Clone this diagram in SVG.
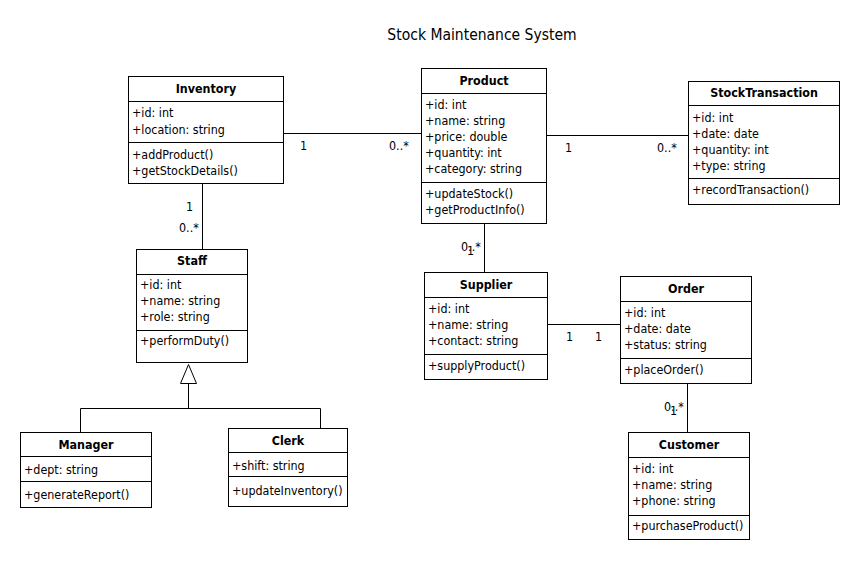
<svg xmlns="http://www.w3.org/2000/svg" width="860" height="561" viewBox="0 0 860 561">
<style>
text{font-family:'DejaVu Sans Condensed','DejaVu Sans',sans-serif;font-stretch:condensed;font-size:12.4px;fill:#000}
.t{font-weight:bold;text-anchor:middle}
.h{font-size:15.5px;text-anchor:middle}
rect{fill:#fff;stroke:#000;stroke-width:1}
line,path{stroke:#000;stroke-width:1;fill:none}
</style>
<rect x="0" y="0" width="860" height="561" style="stroke:none"/>
<text class="h" x="482" y="40">Stock Maintenance System</text>
<g id="connectors">
<line x1="284" y1="133.5" x2="421" y2="133.5"/>
<line x1="546" y1="135.5" x2="688" y2="135.5"/>
<line x1="202.5" y1="184" x2="202.5" y2="249"/>
<line x1="484.5" y1="224" x2="484.5" y2="272"/>
<line x1="547" y1="324.5" x2="620" y2="324.5"/>
<line x1="687.5" y1="384" x2="687.5" y2="432"/>
<path d="M188.5 383.5V408.5M80.5 432V408.5H320.5V428"/>
<path d="M188.5 364.5L180.5 383.5H196.5Z" style="fill:#fff"/>
<text x="300" y="150">1</text>
<text x="389" y="150">0..*</text>
<text x="565" y="152">1</text>
<text x="657" y="152">0..*</text>
<text x="186" y="211">1</text>
<text x="179" y="232">0..*</text>
<text x="461" y="251">0..*</text>
<text x="467" y="255">1</text>
<text x="566" y="341">1</text>
<text x="595" y="341">1</text>
<text x="664" y="411">0..*</text>
<text x="670" y="415">1</text>
</g>
<g id="Inventory">
<rect x="128.5" y="76.5" width="155" height="107"/>
<line x1="128" y1="101.5" x2="284" y2="101.5"/>
<line x1="128" y1="142.5" x2="284" y2="142.5"/>
<text class="t" x="206" y="93">Inventory</text>
<text x="132" y="117">+id: int</text>
<text x="132" y="134">+location: string</text>
<text x="132" y="159">+addProduct()</text>
<text x="132" y="175">+getStockDetails()</text>
</g>
<g id="Product">
<rect x="421.5" y="68.5" width="125" height="155"/>
<line x1="421" y1="93.5" x2="547" y2="93.5"/>
<line x1="421" y1="182.5" x2="547" y2="182.5"/>
<text class="t" x="484" y="85">Product</text>
<text x="425" y="109">+id: int</text>
<text x="425" y="125">+name: string</text>
<text x="425" y="141">+price: double</text>
<text x="425" y="157">+quantity: int</text>
<text x="425" y="173">+category: string</text>
<text x="425" y="198">+updateStock()</text>
<text x="425" y="214">+getProductInfo()</text>
</g>
<g id="StockTransaction">
<rect x="688.5" y="81.5" width="151" height="123"/>
<line x1="688" y1="105.5" x2="840" y2="105.5"/>
<line x1="688" y1="178.5" x2="840" y2="178.5"/>
<text class="t" x="764" y="97">StockTransaction</text>
<text x="692" y="122">+id: int</text>
<text x="692" y="138">+date: date</text>
<text x="692" y="154">+quantity: int</text>
<text x="692" y="170">+type: string</text>
<text x="692" y="194">+recordTransaction()</text>
</g>
<g id="Staff">
<rect x="136.5" y="249.5" width="111" height="113"/>
<line x1="136" y1="274.5" x2="248" y2="274.5"/>
<line x1="136" y1="330.5" x2="248" y2="330.5"/>
<text class="t" x="192" y="265">Staff</text>
<text x="140" y="289">+id: int</text>
<text x="140" y="305">+name: string</text>
<text x="140" y="321">+role: string</text>
<text x="140" y="345">+performDuty()</text>
</g>
<g id="Supplier">
<rect x="424.5" y="272.5" width="123" height="107"/>
<line x1="424" y1="297.5" x2="548" y2="297.5"/>
<line x1="424" y1="354.5" x2="548" y2="354.5"/>
<text class="t" x="486" y="289">Supplier</text>
<text x="428" y="313">+id: int</text>
<text x="428" y="329">+name: string</text>
<text x="428" y="345">+contact: string</text>
<text x="428" y="370">+supplyProduct()</text>
</g>
<g id="Order">
<rect x="620.5" y="276.5" width="131" height="107"/>
<line x1="620" y1="301.5" x2="752" y2="301.5"/>
<line x1="620" y1="358.5" x2="752" y2="358.5"/>
<text class="t" x="686" y="293">Order</text>
<text x="624" y="317">+id: int</text>
<text x="624" y="333">+date: date</text>
<text x="624" y="349">+status: string</text>
<text x="624" y="374">+placeOrder()</text>
</g>
<g id="Customer">
<rect x="628.5" y="432.5" width="121" height="107"/>
<line x1="628" y1="457.5" x2="750" y2="457.5"/>
<line x1="628" y1="515.5" x2="750" y2="515.5"/>
<text class="t" x="689" y="449">Customer</text>
<text x="632" y="473">+id: int</text>
<text x="632" y="489">+name: string</text>
<text x="632" y="505">+phone: string</text>
<text x="632" y="530">+purchaseProduct()</text>
</g>
<g id="Manager">
<rect x="20.5" y="432.5" width="131" height="75"/>
<line x1="20" y1="456.5" x2="152" y2="456.5"/>
<line x1="20" y1="481.5" x2="152" y2="481.5"/>
<text class="t" x="86" y="449">Manager</text>
<text x="24" y="474">+dept: string</text>
<text x="24" y="499">+generateReport()</text>
</g>
<g id="Clerk">
<rect x="228.5" y="428.5" width="119" height="78"/>
<line x1="228" y1="452.5" x2="348" y2="452.5"/>
<line x1="228" y1="476.5" x2="348" y2="476.5"/>
<text class="t" x="288" y="445">Clerk</text>
<text x="232" y="470">+shift: string</text>
<text x="232" y="495">+updateInventory()</text>
</g>
</svg>
